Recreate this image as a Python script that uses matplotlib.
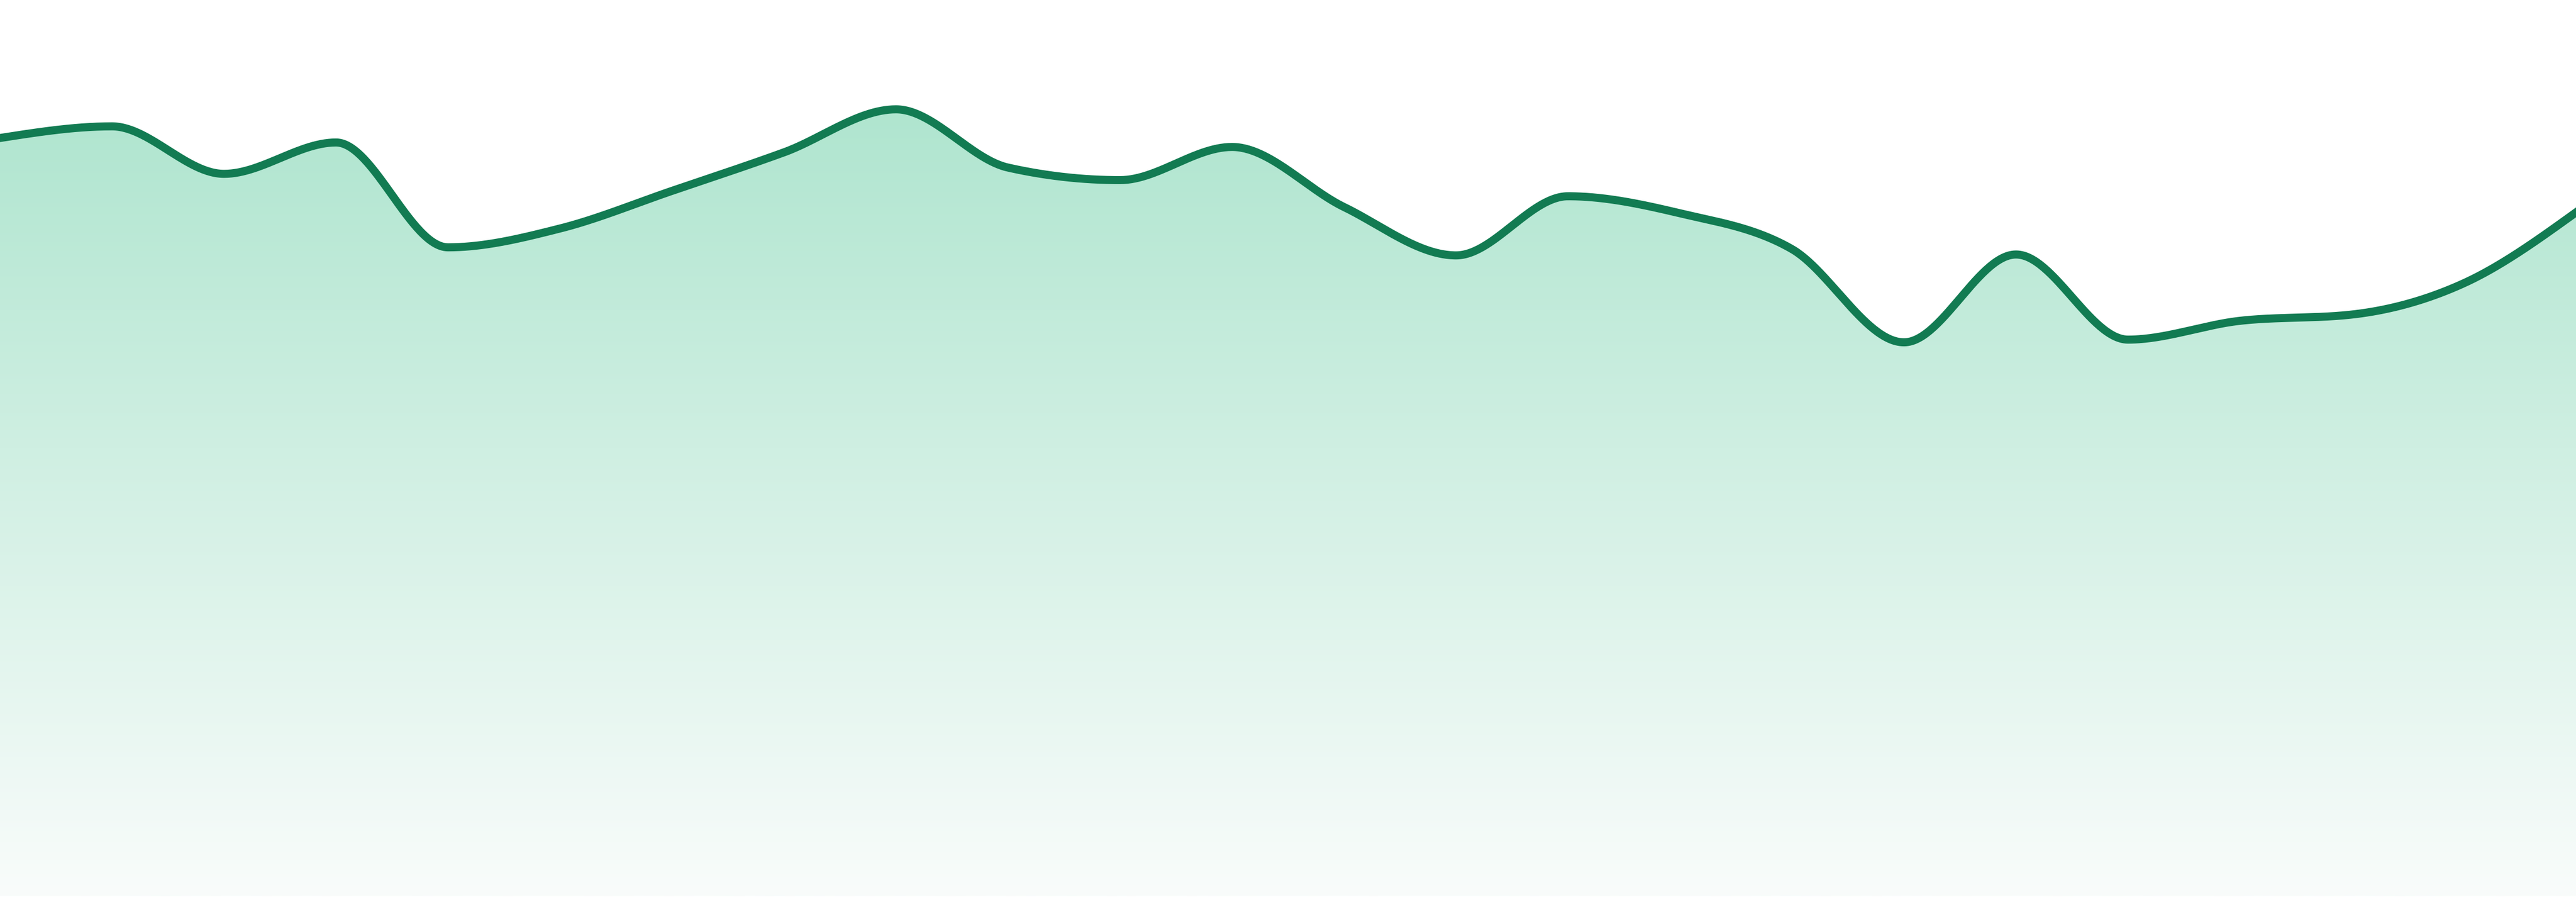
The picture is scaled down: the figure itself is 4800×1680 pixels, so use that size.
import numpy as np
import matplotlib
matplotlib.use("Agg")
import matplotlib.pyplot as plt
from matplotlib.path import Path
from matplotlib.patches import PathPatch

# one value per step (0 = bottom of the fill, 100 = top of the chart)
steps = np.arange(24)
values = [84.6, 85.9, 80.6, 84.1, 72.4, 74.5, 78.7, 83.0, 87.8, 81.3, 79.9, 83.6,
          76.9, 71.5, 78.1, 76.2, 72.2, 61.8, 71.6, 62.1, 64.2, 64.9, 68.4, 76.3]

line_color = "#127b52"
top_color = (165, 226, 201)      # gradient at value 100
bottom_color = (249, 252, 251)   # gradient at value 0


def monotone_x(x, y, n=60):
    # same idea as d3.curveMonotoneX: cubic hermite with limited slopes
    x = np.asarray(x, float)
    y = np.asarray(y, float)
    h = np.diff(x)
    s = np.diff(y) / h
    sg = lambda v: np.where(v < 0, -1.0, 1.0)
    t = np.zeros_like(y)
    p = (s[:-1] * h[1:] + s[1:] * h[:-1]) / (h[:-1] + h[1:])
    t[1:-1] = (sg(s[:-1]) + sg(s[1:])) * np.minimum(np.minimum(abs(s[:-1]), abs(s[1:])), 0.5 * abs(p))
    t[0] = (3 * s[0] - t[1]) / 2
    t[-1] = (3 * s[-1] - t[-2]) / 2
    xs, ys = [], []
    u = np.linspace(0, 1, n, endpoint=False)
    for i in range(len(h)):
        h00 = 2 * u**3 - 3 * u**2 + 1
        h10 = u**3 - 2 * u**2 + u
        h01 = -2 * u**3 + 3 * u**2
        h11 = u**3 - u**2
        xs.append(x[i] + u * h[i])
        ys.append(h00 * y[i] + h10 * h[i] * t[i] + h01 * y[i + 1] + h11 * h[i] * t[i + 1])
    xs.append([x[-1]])
    ys.append([y[-1]])
    return np.concatenate(xs), np.concatenate(ys)


fig = plt.figure(figsize=(16, 5.6), dpi=300)
ax = fig.add_axes([0, 11 / 1680, 1, 1669 / 1680])
ax.set_xlim(0, 23)
ax.set_ylim(0, 100)
ax.axis("off")

cx, cy = monotone_x(steps, values)

# area under the curve, filled with a vertical gradient
verts = np.column_stack([np.r_[cx, cx[-1], cx[0]], np.r_[cy, 0, 0]])
area = PathPatch(Path(verts), facecolor="none", edgecolor="none")
ax.add_patch(area)

k = np.linspace(0, 1, 512)[:, None]
grad = (np.array(top_color) * (1 - k) + np.array(bottom_color) * k) / 255
img = ax.imshow(grad[:, None, :], extent=[0, 23, 0, 100], origin="upper",
                aspect="auto", interpolation="bilinear", zorder=1)
img.set_clip_path(area)

ax.plot(cx, cy, color=line_color, lw=3.6, zorder=2, solid_joinstyle="round")

fig.savefig("out.png", dpi=300, facecolor="white")
